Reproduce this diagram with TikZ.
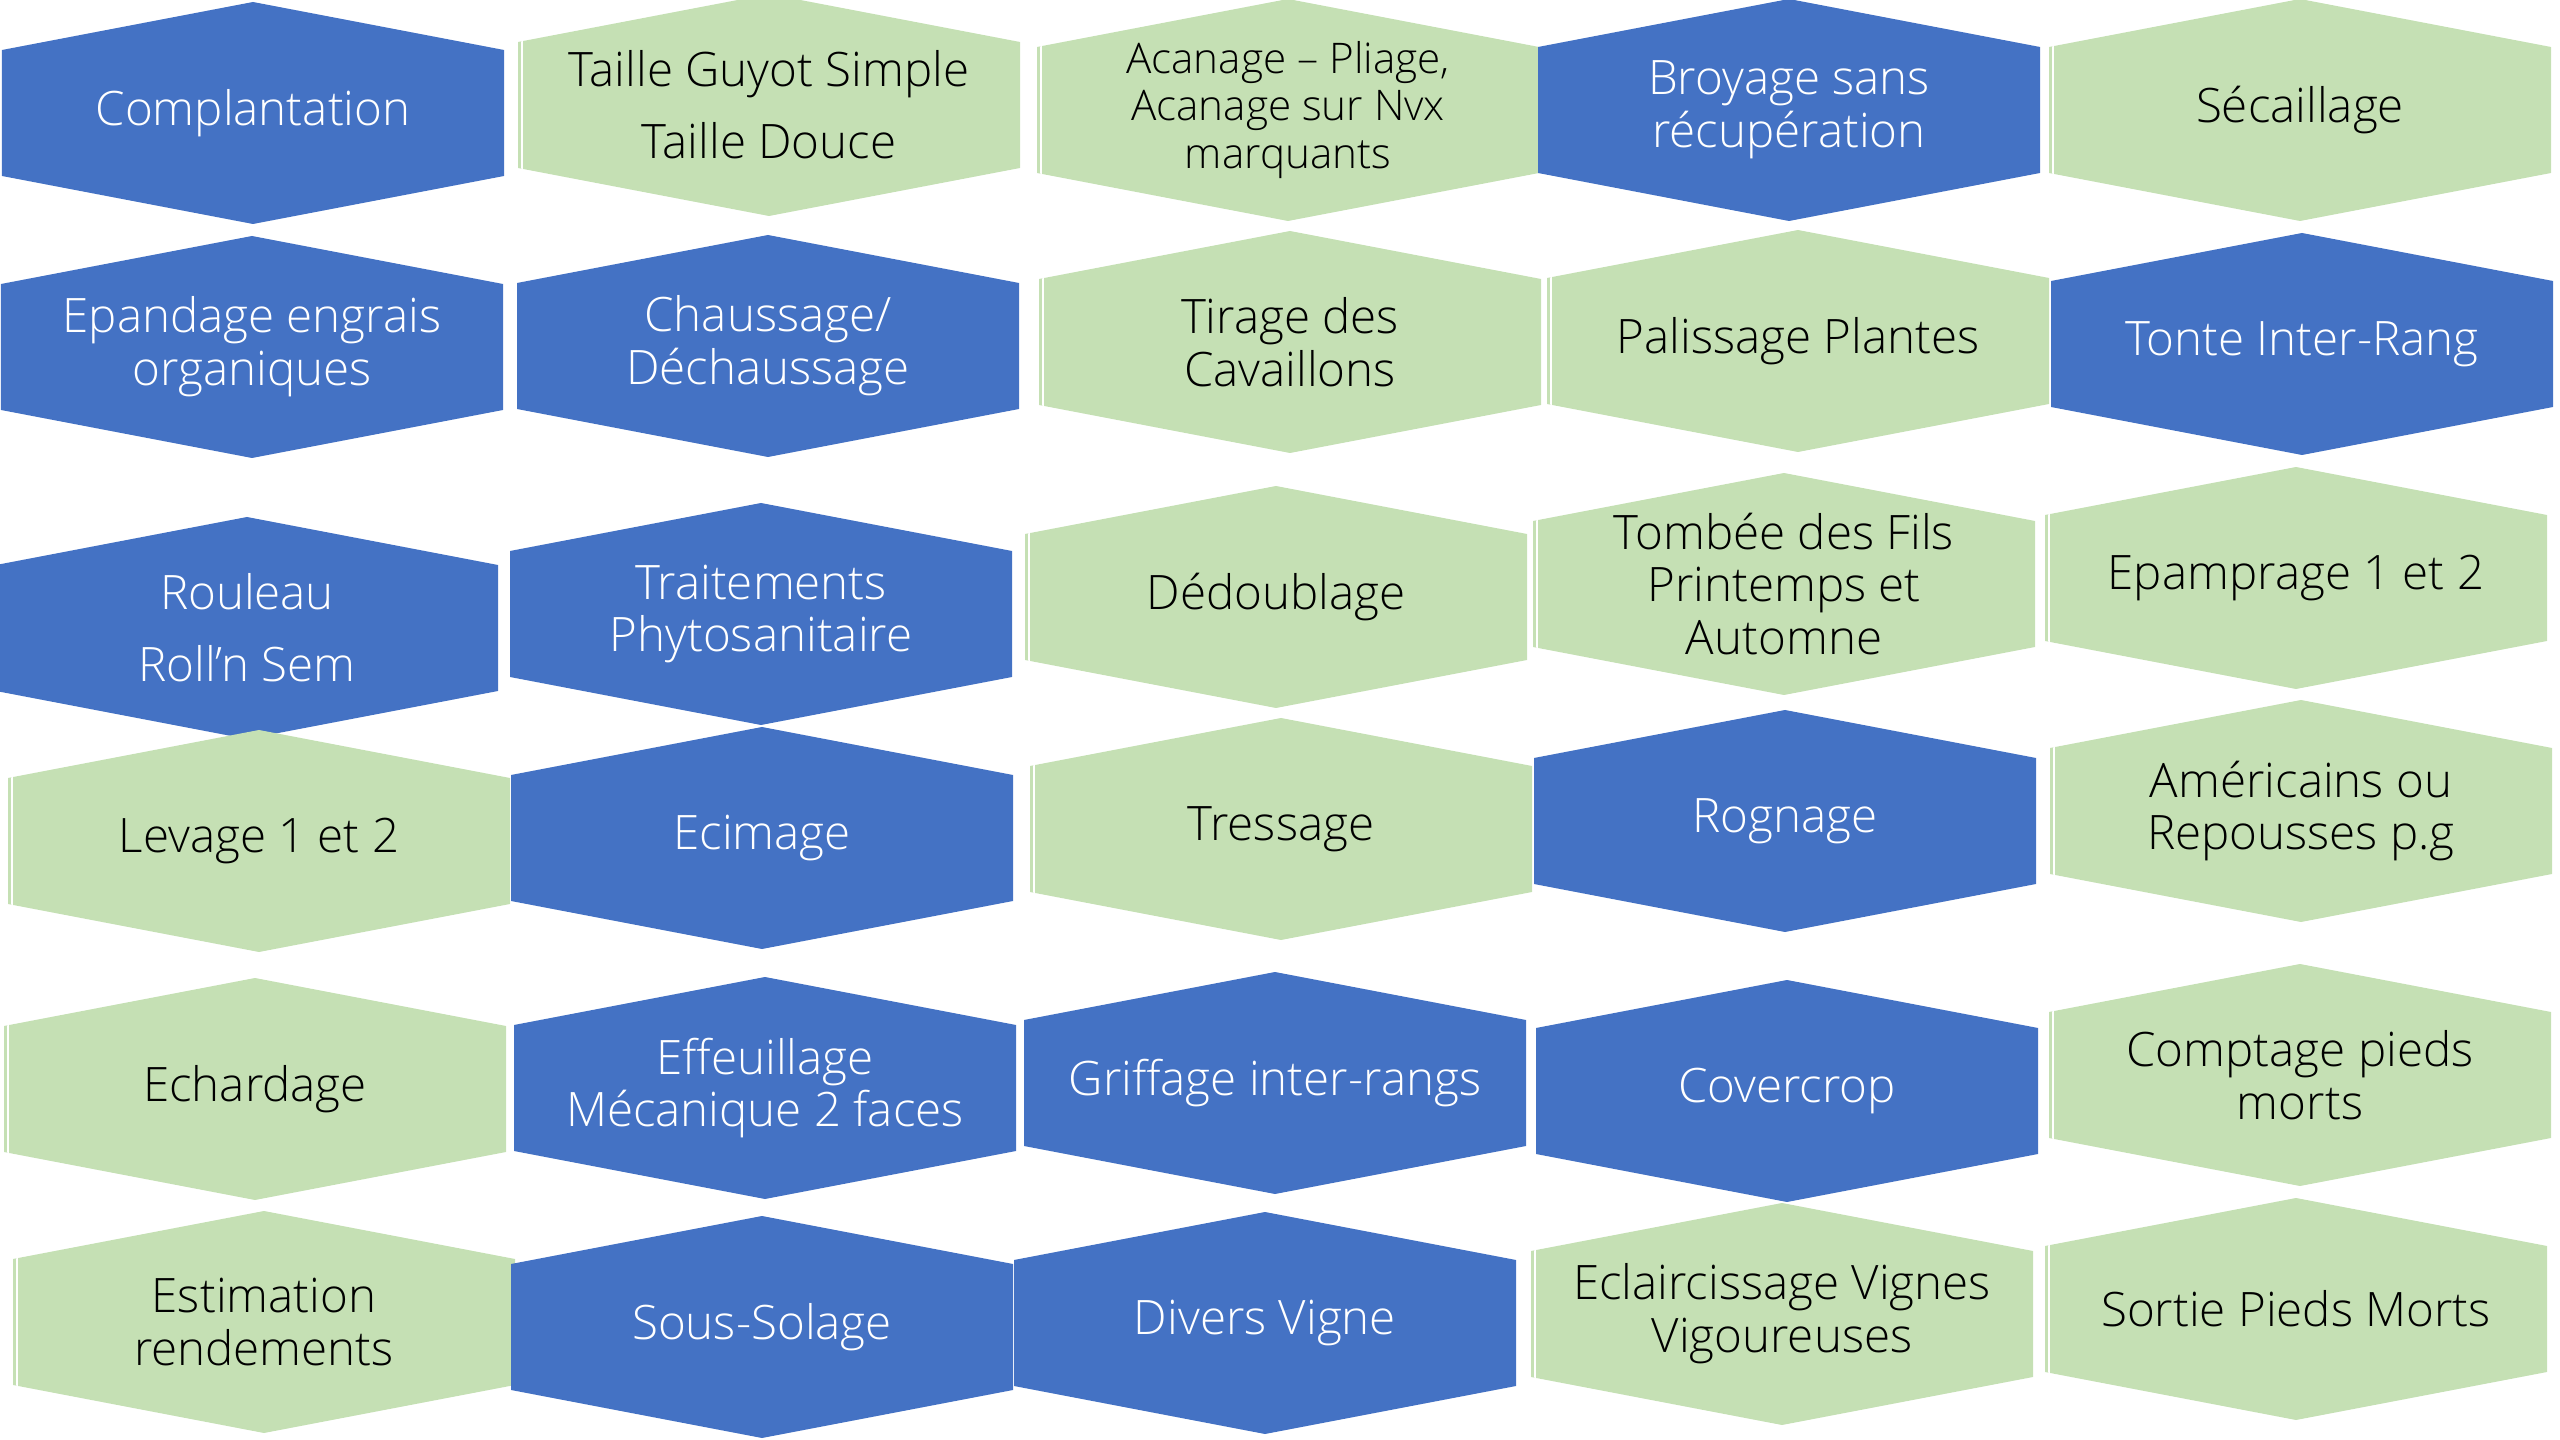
\documentclass[tikz,border=0pt]{standalone}
\usepackage{fontspec}
\IfFontExistsTF{Open Sans Light}{\setmainfont{Open Sans Light}}{\setmainfont{Open Sans}}
\definecolor{hexblue}{HTML}{4472C4}
\definecolor{hexgreen}{HTML}{C5E0B4}
\tikzset{
  cell/.style={align=center, inner sep=0pt, font=\fontsize{13.5}{15}\selectfont},
  bluecell/.style={fill=hexblue},
  greencell/.style={fill=hexgreen,
    path picture={\draw[white, line width=0.45pt]
      ([xshift=0.04cm]path picture bounding box.north west)
      -- ([xshift=0.04cm]path picture bounding box.south west);}},
  bluecell text/.style={text=white},
  greencell text/.style={text=black},
}
% #3,#4 = centre, #5 = colour style
\newcommand{\hexcell}[6][]{%
  \path[#5] (#3-251,#4-63) -- (#3,#4-111) -- (#3+251,#4-63)
    -- (#3+251,#4+63) -- (#3,#4+111) -- (#3-251,#4+63) -- cycle;
  \node[cell, #5 text, #1] (#2) at (#3,#4) {#6};
}
\begin{document}
\begin{tikzpicture}[x=0.01cm, y=-0.01cm]
  \useasboundingbox (0,0) rectangle (2560,1440);
  % row 1
  \hexcell{complantation}{253}{113}{bluecell}{Complantation}
  \hexcell{taille}{769}{105}{greencell}{Taille Guyot Simple\\[5.5pt]Taille Douce}
  \hexcell[font=\fontsize{12}{13.4}\selectfont]{acanage}{1288}{110}{greencell}{Acanage – Pliage,\\Acanage sur Nvx\\marquants}
  \hexcell{broyage}{1789}{110}{bluecell}{Broyage sans\\récupération}
  \hexcell{secaillage}{2300}{110}{greencell}{Sécaillage}
  % row 2
  \hexcell{epandage}{252}{347}{bluecell}{Epandage engrais\\organiques}
  \hexcell{chaussage}{768}{346}{bluecell}{Chaussage/\\Déchaussage}
  \hexcell{tirage}{1290}{342}{greencell}{Tirage des\\Cavaillons}
  \hexcell{palissage}{1798}{341}{greencell}{Palissage Plantes}
  \hexcell{tonte}{2302}{344}{bluecell}{Tonte Inter-Rang}
  % row 3
  \hexcell{rouleau}{247}{628}{bluecell}{Rouleau\\[5.5pt]Roll’n Sem}
  \hexcell{traitements}{761}{614}{bluecell}{Traitements\\Phytosanitaire}
  \hexcell{dedoublage}{1276}{597}{greencell}{Dédoublage}
  \hexcell{tombee}{1784}{584}{greencell}{Tombée des Fils\\Printemps et\\Automne}
  \hexcell{epamprage}{2296}{578}{greencell}{Epamprage 1 et 2}
  % row 4
  \hexcell{levage}{259}{841}{greencell}{Levage 1 et 2}
  \hexcell{ecimage}{762}{838}{bluecell}{Ecimage}
  \hexcell{tressage}{1281}{829}{greencell}{Tressage}
  \hexcell{rognage}{1785}{821}{bluecell}{Rognage}
  \hexcell{americains}{2301}{811}{greencell}{Américains ou\\Repousses p.g}
  % row 5
  \hexcell{echardage}{255}{1089}{greencell}{Echardage}
  \hexcell{effeuillage}{765}{1088}{bluecell}{Effeuillage\\Mécanique 2 faces}
  \hexcell{griffage}{1275}{1083}{bluecell}{Griffage inter-rangs}
  \hexcell{covercrop}{1787}{1091}{bluecell}{Covercrop}
  \hexcell{comptage}{2300}{1075}{greencell}{Comptage pieds\\morts}
  % row 6
  \hexcell{estimation}{264}{1322}{greencell}{Estimation\\rendements}
  \hexcell{soussolage}{762}{1327}{bluecell}{Sous-Solage}
  \hexcell{divers}{1265}{1323}{bluecell}{Divers Vigne}
  \hexcell{eclaircissage}{1782}{1314}{greencell}{Eclaircissage Vignes\\Vigoureuses}
  \hexcell{sortie}{2296}{1309}{greencell}{Sortie Pieds Morts}
\end{tikzpicture}
\end{document}
